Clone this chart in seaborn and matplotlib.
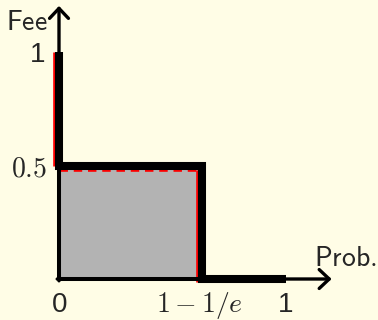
import numpy as np
import pandas as pd
import matplotlib
matplotlib.use("Agg")
import matplotlib.pyplot as plt
import seaborn as sns

# Fee schedule as a step function of the probability
threshold = 1 - 1 / np.e
probs = [0.0, 0.0, threshold, threshold, 1.0]
fees = [1.0, 0.5, 0.5, 0.0, 0.0]

# Tick labels along the two axes ($...$ labels are set as math)
x_ticks = [0.0, threshold, 1.0]
x_tick_labels = ["0", r"$1-1/e$", "1"]
y_ticks = [1.0, 0.5]
y_tick_labels = ["1", r"$0.5$"]

bg = "#fffde6"
plt.rcParams["mathtext.fontset"] = "cm"

sns.set_style("white")
fig = plt.figure(figsize=(3.78, 3.2), dpi=100, facecolor=bg)
ax = fig.add_axes([0, 0, 1, 1])
ax.set_facecolor(bg)

# Shaded region under the middle step
ax.fill_between([0, threshold], 0, 0.5, color="#b3b3b3", lw=0, zorder=1)

# Thin red reference curve, nudged slightly down-left of the step
d = 0.022
ax.plot([-d, -d], [1.0, 0.5], color="red", lw=1.9, solid_capstyle="butt", zorder=2)
ax.plot([0, threshold - d], [0.5 - d, 0.5 - d], color="red", lw=1.9,
        dashes=(3.2, 2.2), zorder=2)
ax.plot([threshold - d, threshold - d], [0.5 - d, -0.012], color="red", lw=1.9,
        solid_capstyle="butt", zorder=2)

# Outline of the shaded region
ax.plot([0, 0, threshold, threshold, 0], [0, 0.5, 0.5, 0, 0], color="black",
        lw=2.9, solid_joinstyle="miter", zorder=3)

# Thick step curve
df = pd.DataFrame({"prob": probs, "fee": fees})
sns.lineplot(data=df, x="prob", y="fee", sort=False, estimator=None, ax=ax,
             color="black", lw=5.8, solid_capstyle="butt",
             solid_joinstyle="miter", zorder=4)
ax.set_xlim(-0.2599, 1.4053)
ax.set_ylim(-0.1806, 1.2291)
ax.axis("off")

# Axes with open arrow heads
arrow = dict(arrowstyle="->,head_length=0.36,head_width=0.34", lw=2.4,
             color="black", shrinkA=0, shrinkB=0, mutation_scale=20)
ax.annotate("", xy=(0, 1.203), xytext=(0, -0.008), arrowprops=arrow, zorder=5)
ax.annotate("", xy=(1.201, 0), xytext=(-0.008, 0), arrowprops=arrow, zorder=5)

fs = 20
sans = "Liberation Sans"
ax.text(-0.141, 1.097, r"$\mathsf{Fee}$", fontsize=fs, ha="center", va="baseline")
ax.text(1.26, 0.057, r"$\mathsf{Prob.}$", fontsize=fs, ha="center", va="baseline")

x_label_pos = [0.002, 0.619, 0.998]
for xv, lab in zip(x_label_pos, x_tick_labels):
    ax.text(xv, -0.145, lab, fontsize=fs, ha="center", va="baseline",
            family=sans if not lab.startswith("$") else None)

y_label_pos = [(-0.0925, 0.956), (-0.132, 0.4537)]
for (xv, yv), lab in zip(y_label_pos, y_tick_labels):
    ax.text(xv, yv, lab, fontsize=fs, ha="center", va="baseline",
            family=sans if not lab.startswith("$") else None)

fig.savefig("out.png", dpi=100, facecolor=bg)
